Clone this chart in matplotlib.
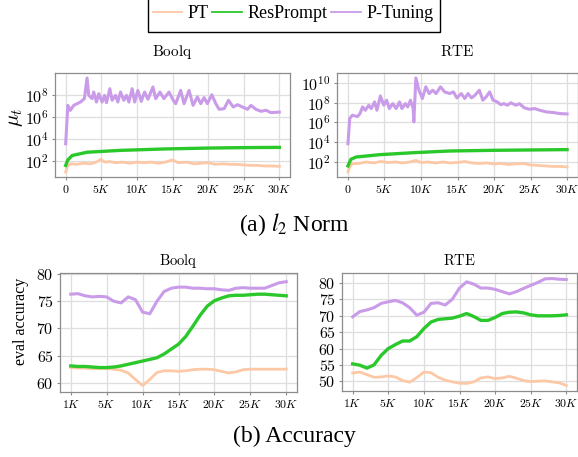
import matplotlib
matplotlib.use("Agg")
import matplotlib.pyplot as plt
import numpy as np
from matplotlib.lines import Line2D
from matplotlib.patches import Rectangle
from matplotlib.ticker import FixedLocator, FixedFormatter

plt.rcParams["mathtext.fontset"] = "cm"

C_PT = "#fcc8a6"
C_RES = "#2bc82b"
C_PTUN = "#c99be8"

# ---- (a) l2 norm, values as log10 exponents ----
boolq_ptun_steps = [0, 300, 650, 1130, 2070, 2630, 3000, 3240, 3700, 3940, 4320, 4650, 5110,
                    5450, 5730, 6200, 6520, 7000, 7320, 7700, 8170, 8550, 8870, 9340, 9680,
                    10140, 10610, 11080, 11550, 12250, 12640, 13240, 13800, 14510, 15110,
                    15450, 16150, 16620, 17320, 17890, 18490, 18970, 19440, 19900, 20520,
                    21080, 21550, 22250, 22860, 23520, 24130, 24830, 25540, 26010, 26710,
                    27420, 28130, 28830, 30000]
boolq_ptun_exp = [3.57, 7.06, 6.6, 7.06, 7.36, 7.67, 9.55, 7.97, 7.67, 8.27, 7.36, 8.12, 7.36,
                  7.97, 7.30, 8.57, 7.52, 7.97, 7.36, 8.27, 7.52, 7.97, 7.36, 8.57, 7.36,
                  8.42, 7.42, 8.27, 7.61, 8.73, 7.67, 8.27, 7.67, 8.27, 7.52,
                  7.21, 8.42, 7.21, 8.42, 7.06, 7.82, 7.21, 7.76, 7.21, 8.03,
                  7.21, 6.7, 6.76, 7.52, 6.91, 7.12, 6.91, 6.7, 7.06, 6.7,
                  6.52, 6.61, 6.4, 6.45]
boolq_res_steps = [0, 300, 900, 3000, 7700, 14000, 20000, 25000, 30000]
boolq_res_exp = [1.6, 2.1, 2.5, 2.8, 2.97, 3.1, 3.18, 3.22, 3.24]
boolq_pt_steps = [0, 300, 800, 1500, 2500, 3500, 4300, 4900, 5500, 6200, 7000, 8000, 9000,
                  10000, 11000, 12000, 13000, 14000, 15000, 15800, 17000, 18000, 19000,
                  20000, 21000, 22000, 23000, 24000, 25000, 26000, 27000, 28000, 29000, 30000]
boolq_pt_exp = [1.0, 1.6, 1.75, 1.7, 1.8, 1.75, 1.9, 2.15, 1.9, 1.95, 1.85, 1.9, 1.8,
                1.9, 1.85, 1.9, 1.8, 1.9, 2.1, 1.85, 1.9, 1.75, 1.8,
                1.85, 1.7, 1.75, 1.7, 1.7, 1.65, 1.6, 1.6, 1.55, 1.55, 1.52]

rte_ptun_steps = [0, 240, 600, 1300, 1640, 2000, 2380, 2850, 3180, 3650, 3970, 4440, 4910,
                  5290, 5660, 6130, 6600, 7060, 7390, 7850, 8180, 8560, 8930, 9020, 9300,
                  9720, 10190, 10660, 11120, 11600, 12060, 12670, 13230, 13930, 14440,
                  14910, 15520, 15990, 16450, 16920, 17390, 17990, 18470, 18930, 19400,
                  19870, 20430, 20900, 21360, 21840, 22300, 23000, 23470, 24170, 24870,
                  25570, 26270, 27200, 28140, 29070, 30000]
rte_ptun_exp = [3.85, 6.39, 6.73, 6.59, 6.89, 7.57, 7.23, 7.74, 7.4, 8.08, 7.23, 8.68, 7.74,
                8.25, 7.4, 7.9, 7.4, 8.08, 7.4, 7.9, 7.57, 8.25, 7.4, 6.05, 10.5,
                9.26, 8.42, 9.6, 8.92, 9.26, 8.92, 9.6, 9.09, 8.92, 9.09,
                8.48, 8.92, 8.42, 8.92, 8.48, 8.75, 9.26, 8.25, 8.59, 9.09,
                8.25, 8.08, 7.8, 7.9, 7.74, 7.99, 7.74, 7.9, 7.47, 7.33,
                7.4, 7.23, 7.06, 7.0, 6.89, 6.86]
rte_res_steps = [0, 400, 1100, 4360, 9000, 13900, 20000, 30000]
rte_res_exp = [1.6, 2.27, 2.5, 2.74, 2.94, 3.11, 3.18, 3.25]
rte_pt_steps = [0, 250, 600, 1500, 2500, 3500, 4500, 5500, 6500, 7500, 8500, 9300, 10000,
                11000, 12000, 13000, 14000, 15000, 16000, 17000, 18000, 19000, 20000,
                21000, 22000, 23000, 24000, 25000, 26000, 27000, 28000, 29000, 30000]
rte_pt_exp = [1.0, 1.5, 1.83, 1.85, 2.0, 1.9, 2.05, 1.95, 2.0, 1.9, 2.0, 2.16, 1.95,
              2.0, 1.9, 2.0, 1.9, 1.95, 2.05, 1.9, 1.85, 1.9, 1.8,
              1.85, 1.75, 1.8, 1.85, 1.7, 1.65, 1.6, 1.55, 1.55, 1.5]

# ---- (b) accuracy, checkpoints 1K..30K evenly spaced ----
acc_labels = ["1K", "5K", "10K", "15K", "20K", "25K", "30K"]
boolq_acc_ptun = [76.3, 76.4, 76.0, 75.8, 75.9, 75.8, 75.0, 74.7, 75.8, 75.3, 73.0, 72.7, 75.0,
                  76.8, 77.4, 77.6, 77.6, 77.4, 77.4, 77.3, 77.3, 77.1, 77.0, 77.4, 77.5,
                  77.4, 77.4, 77.4, 77.9, 78.4, 78.6]
boolq_acc_res = [63.1, 63.0, 63.0, 62.9, 62.8, 62.8, 62.9, 63.1, 63.4, 63.7, 64.0, 64.3, 64.6,
                 65.3, 66.2, 67.1, 68.5, 70.4, 72.4, 74.1, 75.1, 75.6, 76.0, 76.1, 76.1,
                 76.2, 76.3, 76.3, 76.2, 76.1, 76.0]
boolq_acc_pt = [62.8, 62.7, 62.7, 62.6, 62.6, 62.6, 62.5, 62.3, 61.8, 60.6, 59.5, 60.6, 61.9,
                62.2, 62.2, 62.1, 62.2, 62.4, 62.5, 62.5, 62.4, 62.1, 61.8, 62.0, 62.4,
                62.5, 62.5, 62.5, 62.5, 62.5, 62.5]
rte_acc_ptun = [69.7, 71.3, 71.8, 72.5, 73.8, 74.3, 74.7, 74.0, 72.5, 70.2, 71.1, 73.8, 74.0,
                73.3, 75.1, 78.5, 80.4, 79.7, 78.5, 78.5, 78.1, 77.4, 76.7, 77.4, 78.4,
                79.3, 80.2, 81.3, 81.4, 81.2, 81.1]
rte_acc_res = [55.3, 54.9, 54.0, 55.0, 57.9, 60.0, 61.2, 62.3, 62.3, 63.6, 66.1, 68.1, 68.9,
               69.1, 69.3, 69.9, 70.7, 69.8, 68.6, 68.6, 69.5, 70.7, 71.1, 71.2, 70.9,
               70.3, 70.0, 70.0, 70.0, 70.1, 70.3]
rte_acc_pt = [52.5, 52.8, 52.0, 51.2, 51.3, 51.6, 51.3, 50.2, 49.7, 51.1, 52.8, 52.6, 51.2,
              50.3, 49.8, 49.4, 49.3, 49.8, 51.0, 51.3, 50.8, 51.0, 51.5, 50.9, 50.2,
              49.9, 50.0, 50.1, 49.8, 49.5, 48.7]

W, H = 578, 457
fig = plt.figure(figsize=(W / 100, H / 100), dpi=100)


def box(l, t, r, b):
    return [l / W, 1 - b / H, (r - l) / W, (b - t) / H]


def style(ax):
    for s in ax.spines.values():
        s.set_color("#8c8c8c")
        s.set_linewidth(0.9)
    ax.grid(color="#dedede", linewidth=0.9)
    ax.set_axisbelow(True)
    ax.tick_params(length=2.5, color="#8c8c8c", pad=2)
    ax.tick_params(axis="y", labelsize=11.5)
    ax.tick_params(axis="x", labelsize=8.5)


def norm_panel(ax, title, series, ylim, exps):
    for steps, vals, c, lw in series:
        ax.plot(steps, 10 ** np.array(vals), color=c, lw=lw, solid_joinstyle="round")
    ax.set_yscale("log")
    ax.set_ylim(10 ** ylim[0], 10 ** ylim[1])
    ax.set_xlim(-1500, 31500)
    ax.yaxis.set_major_locator(FixedLocator([10.0 ** e for e in exps]))
    ax.yaxis.set_major_formatter(FixedFormatter([r"$10^{%d}$" % e for e in exps]))
    ax.yaxis.set_minor_locator(FixedLocator([]))
    ax.set_xticks(range(0, 30001, 5000))
    ax.set_xticklabels(["$0$"] + [r"$%dK$" % k for k in range(5, 31, 5)])
    ax.set_title(r"$\mathrm{%s}$" % title, fontsize=11, pad=12)
    style(ax)


ax1 = fig.add_axes(box(55, 73, 290, 177))
norm_panel(ax1, "Boolq",
           [(boolq_pt_steps, boolq_pt_exp, C_PT, 2.0),
            (boolq_res_steps, boolq_res_exp, C_RES, 2.4),
            (boolq_ptun_steps, boolq_ptun_exp, C_PTUN, 2.2)],
           (0.55, 10.0), [2, 4, 6, 8])
ax1.set_ylabel(r"$\mu_t$", fontsize=15, va="center")
ax1.yaxis.set_label_coords(-0.17, 0.57)

ax2 = fig.add_axes(box(337, 73, 578, 177))
norm_panel(ax2, "RTE",
           [(rte_pt_steps, rte_pt_exp, C_PT, 2.0),
            (rte_res_steps, rte_res_exp, C_RES, 2.4),
            (rte_ptun_steps, rte_ptun_exp, C_PTUN, 2.2)],
           (0.48, 11.0), [2, 4, 6, 8, 10])


def acc_panel(ax, title, pt, res, ptun, ylim):
    x = np.arange(len(pt))
    ax.plot(x, pt, color=C_PT, lw=2.0)
    ax.plot(x, res, color=C_RES, lw=2.4)
    ax.plot(x, ptun, color=C_PTUN, lw=2.2)
    ax.set_xlim(-1.5, 31.5)
    ax.set_ylim(*ylim)
    ax.set_xticks(range(0, 31, 5))
    ax.set_xticklabels([r"$%s$" % s for s in acc_labels])
    ax.set_yticklabels([r"$%d$" % v for v in ax.get_yticks()])
    ax.set_title(r"$\mathrm{%s}$" % title, fontsize=10.5, pad=6)
    style(ax)


ax3 = fig.add_axes(box(60, 273, 297, 392))
ax3.set_yticks([60, 65, 70, 75, 80])
acc_panel(ax3, "Boolq", boolq_acc_pt, boolq_acc_res, boolq_acc_ptun, (58.3, 80.2))
ax3.set_ylabel("eval accuracy", fontsize=11.5, family="Liberation Serif", va="center")
ax3.yaxis.set_label_coords(-0.165, 0.59)

ax4 = fig.add_axes(box(342, 273, 577, 391))
ax4.set_yticks([50, 55, 60, 65, 70, 75, 80])
acc_panel(ax4, "RTE", rte_acc_pt, rte_acc_res, rte_acc_ptun, (47.0, 83.1))

# legend: box whose top edge runs off the figure
handles = [Line2D([], [], color=C_PT, lw=1.3),
           Line2D([], [], color=C_RES, lw=1.3),
           Line2D([], [], color=C_PTUN, lw=1.3)]
fig.legend(handles, ["PT", "ResPrompt", "P-Tuning"], ncol=3, loc="center",
           bbox_to_anchor=(293 / W, 1 - 14 / H),
           prop={"family": "Liberation Serif", "size": 13},
           frameon=False, handlelength=1.65, handletextpad=0.3, columnspacing=0.2,
           borderpad=0, borderaxespad=0)
fig.patches.append(Rectangle((148 / W, 1 - 32 / H), (440 - 148) / W, 40 / H,
                             transform=fig.transFigure, fill=False, edgecolor="black",
                             linewidth=1.0, clip_on=False))

fig.text(294 / W, 1 - 225 / H, r"(a) $l_2$ Norm", ha="center", va="center",
         family="Liberation Serif", fontsize=17, math_fontfamily="stix")
fig.text(294 / W, 1 - 436 / H, "(b) Accuracy", ha="center", va="center",
         family="Liberation Serif", fontsize=17)

fig.savefig("out.png", dpi=100)
